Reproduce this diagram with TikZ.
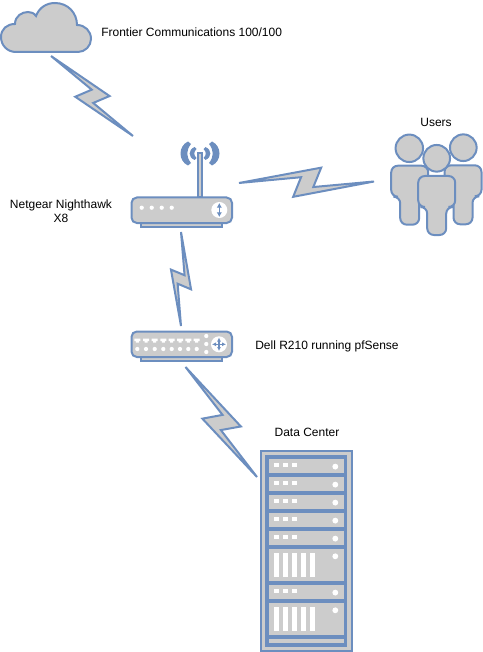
\documentclass[tikz,border=0pt]{standalone}
\usepackage{fontspec}
\setmainfont{Liberation Sans}
\usetikzlibrary{arrows.meta,calc,fit}
\definecolor{iconblue}{HTML}{6C8EBF}
\definecolor{icongray}{HTML}{CCCCCC}

\begin{document}
\begin{tikzpicture}[
  x=0.75pt, y=-0.75pt,
  font=\fontsize{9}{10.5}\selectfont,
  icon/.style={draw=iconblue, fill=icongray, line width=1.5pt},
  iconbox/.style={inner sep=0pt, outer sep=0pt},
  label/.style={inner sep=0pt, align=center},
  hole/.style={fill=white},
  tiny/.style={-, draw=iconblue, line width=1pt},
  bolt/.style={icon, to path={
    -- ($(\tikztostart)!.46!(\tikztotarget)!.07!90:(\tikztotarget)$)
    -- ($(\tikztostart)!.40!(\tikztotarget)!.178!-90:(\tikztotarget)$)
    -- (\tikztotarget)
    -- ($(\tikztostart)!.55!(\tikztotarget)!.08!-90:(\tikztotarget)$)
    -- ($(\tikztostart)!.61!(\tikztotarget)!.274!90:(\tikztotarget)$)
    -- cycle}},
  person/.pic={
    \draw[icon, rounded corners=5pt] (-18.5,0) -- (18.5,0) -- (18.5,31) -- (9.5,31)
      -- (9.5,59) -- (-9.5,59) -- (-9.5,31) -- (-18.5,31) -- cycle;
  }
]
  \useasboundingbox (0,0) rectangle (482,652);

  % icon areas, used as ends of the links
  \node[iconbox, fit={(1,2) (91,52)}] (cloud) {};
  \node[iconbox, fit={(131,141) (232,227)}] (router) {};
  \node[iconbox, fit={(131,331) (232,361)}] (firewall) {};
  \node[iconbox, fit={(391,134) (480,235)}] (users) {};
  \node[iconbox, fit={(260,450) (353,651)}] (rack) {};

  % cloud
  \draw[icon] (16,52) .. controls (7,52) and (1,45) .. (1,37)
    .. controls (1,29) and (7,24) .. (15,24)
    .. controls (15,16) and (22,12) .. (28,12)
    .. controls (31,12) and (34,13) .. (36,16)
    .. controls (39,8) and (46,3) .. (55,3)
    .. controls (68,3) and (77,13) .. (77,25)
    .. controls (85,25) and (91,31) .. (91,39)
    .. controls (91,46) and (85,52) .. (78,52) -- cycle;

  % router
  \draw[icon] (141,223) rectangle (222,227);
  \draw[icon, line width=1.2pt] (198,153) rectangle (202,197);
  \draw[icon, rounded corners=4pt] (131.5,197.5) rectangle (232,223);
  \foreach \x in {141.7,151.7,161.7,171.7}
    \fill[hole] (\x,207.7) circle (1.6pt);
  \fill[hole] (219.3,210) circle (6pt);
  \draw[tiny, {Latex[length=3.5pt,width=4pt]}-{Latex[length=3.5pt,width=4pt]}] (219.3,203) -- (219.3,217);
  \foreach \s in {-1,1} {
    \fill[iconblue] (200+\s*12,141.5) .. controls (200+\s*22,146) and (200+\s*22,161) .. (200+\s*12,165.5)
      -- (200+\s*9,163) .. controls (200+\s*14,157) and (200+\s*14,150) .. (200+\s*9,144) -- cycle;
    \fill[iconblue] (200+\s*5.5,147) .. controls (200+\s*12,150) and (200+\s*12,157) .. (200+\s*5.5,160)
      -- (200+\s*3.5,158) .. controls (200+\s*6.5,155) and (200+\s*6.5,152) .. (200+\s*3.5,149) -- cycle;
  }

  % firewall
  \draw[icon] (141,357) rectangle (222,361);
  \draw[icon, rounded corners=4pt] (131.5,331.5) rectangle (232,357);
  \foreach \x in {137.3,146,154.7,163.3,171.7,180,188.3,196.7} {
    \fill[hole] (\x-3,338.5) -- (\x+3,338.5) -- (\x+3,341) -- (\x+1.5,341) -- (\x+1.5,342.5)
      -- (\x-1.5,342.5) -- (\x-1.5,341) -- (\x-3,341) -- cycle;
    \fill[hole] (\x,349) circle (1.6pt);
  }
  \foreach \y in {336,344,352}
    \fill[hole] (206.3,\y) circle (1.6pt);
  \fill[hole] (219,344.3) circle (6pt);
  \draw[tiny, line width=0.8pt, {Latex[length=3pt,width=3pt]}-{Latex[length=3pt,width=3pt]}] (219,337.5) -- (219,351);
  \draw[tiny, line width=0.8pt, {Latex[length=3pt,width=3pt]}-{Latex[length=3pt,width=3pt]}] (212,344.3) -- (226,344.3);

  % users
  \draw[icon] (409.3,148.3) circle (10.3pt);
  \draw[icon] (463.3,147.7) circle (10pt);
  \pic at (409.7,165.7) {person};
  \pic at (463,165.3) {person};
  \draw[icon] (436.7,158.3) circle (10pt);
  \pic at (436.7,176) {person};

  % rack
  \draw[icon, line width=1.8pt] (261,451) rectangle (352,651);
  \fill[iconblue] (265,455) rectangle (347,647);
  \foreach \y in {459.3,477.3,495.3,513.3,531.3,585.3} {
    \fill[icongray] (268.7,\y) rectangle (344.3,\y+14);
    \foreach \x in {274,283,292}
      \fill[hole] (\x,\y+4) rectangle (\x+5.3,\y+7.5);
    \fill[hole] (335.3,\y+7.3) circle (2.2pt);
  }
  \foreach \y in {549.3,603.3} {
    \fill[icongray] (268.7,\y) rectangle (344.3,\y+32);
    \foreach \x in {274,283,292,301,310}
      \fill[hole] (\x,\y+4) rectangle (\x+5.3,\y+28);
    \fill[hole] (335.3,\y+7) circle (2.2pt);
  }
  \fill[icongray] (268.7,639.3) rectangle (344.3,643.3);

  % links
  \draw[bolt] ([shift={(5,4)}]cloud.south) to ([shift={(2,-5)}]router.north west);
  \draw[bolt] ([shift={(7,-1)}]router.east) to ([shift={(-17,-3)}]users.west);
  \draw[bolt] ([shift={(-0.5,5)}]router.south) to ([shift={(-0.5,-5)}]firewall.north);
  \draw[bolt] ([shift={(4,6)}]firewall.south) to ([shift={(-3,27)}]rack.north west);

  % labels
  \node[label, anchor=west] (cloudtext) at (101,32) {Frontier Communications 100/100};
  \node[label] (routertext) at (61,211) {Netgear Nighthawk\\X8};
  \node[label, anchor=west] (firewalltext) at (255,346) {Dell R210 running pfSense};
  \node[label] (userstext) at (436,122) {Users};
  \node[label] (racktext) at (307,432) {Data Center};
\end{tikzpicture}
\end{document}
